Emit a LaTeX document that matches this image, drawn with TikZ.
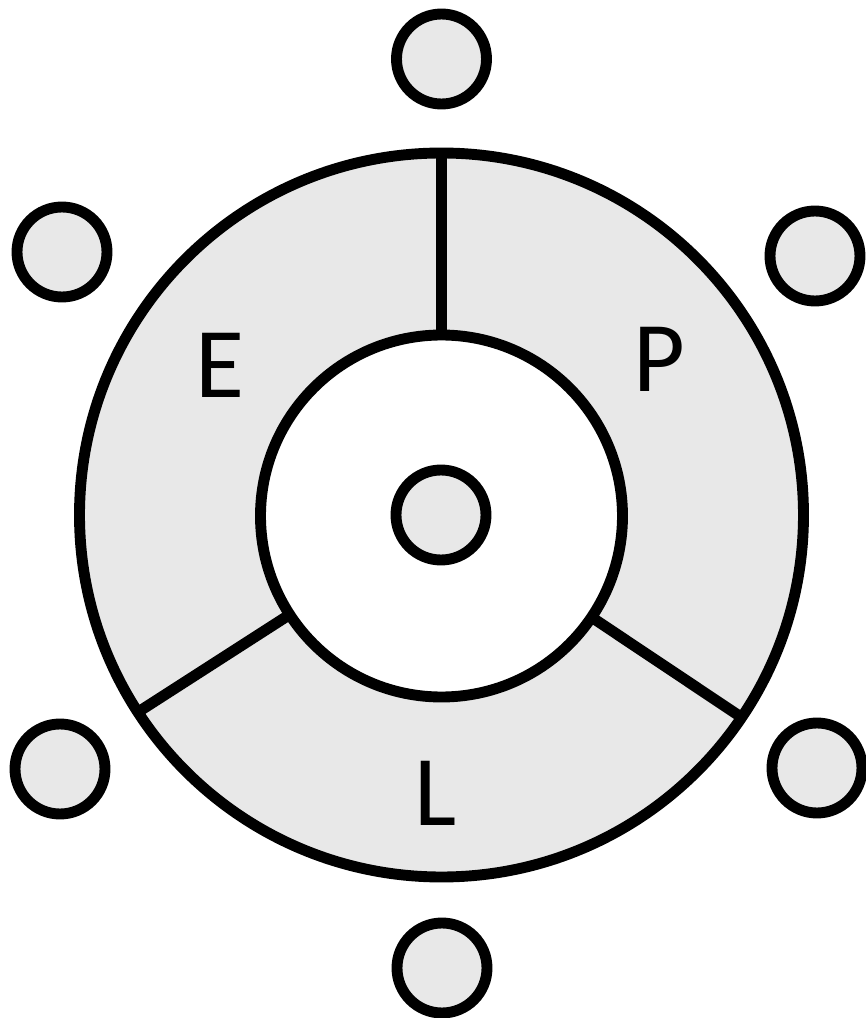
\documentclass[tikz,border=0pt]{standalone}
\usepackage{fontspec}
\setmainfont{Carlito}
\usepackage{tikz}
\usetikzlibrary{positioning}
\definecolor{ringgray}{HTML}{E8E8E8}

\begin{document}
\begin{tikzpicture}[line width=3.1pt,every node/.style={inner sep=0pt,outer sep=0pt},dot/.style={circle,draw=black,fill=ringgray,minimum size=0.9cm},lbl/.style={font=\fontsize{28.5}{30}\selectfont,anchor=base}]
\useasboundingbox (0,0) rectangle (8.65,10.18);
\node[circle,draw=black,fill=ringgray,minimum size=7.24cm] (outer) at (4.415,5.03) {};
\node[circle,draw=black,fill=white,minimum size=3.62cm] (inner) at (4.415,5.02) {};
\node[dot] (hub) at (4.41,5.03) {};
\draw (inner.90)--(outer.90);
\draw (inner.213.5)--(outer.213.5);
\draw (inner.326.5)--(outer.326.5);
\node[lbl] (e) at (2.20,6.20) {E};
\node[lbl] (p) at (6.59,6.26) {P};
\node[lbl] (l) at (4.355,1.93) {L};
\node[dot] (top) at (4.415,9.59) {};
\node[dot] (upl) at (0.62,7.66) {};
\node[dot] (upr) at (8.15,7.62) {};
\node[dot] (lowl) at (0.60,2.49) {};
\node[dot] (lowr) at (8.17,2.50) {};
\node[dot] (bottom) at (4.42,0.50) {};
\end{tikzpicture}
\end{document}
